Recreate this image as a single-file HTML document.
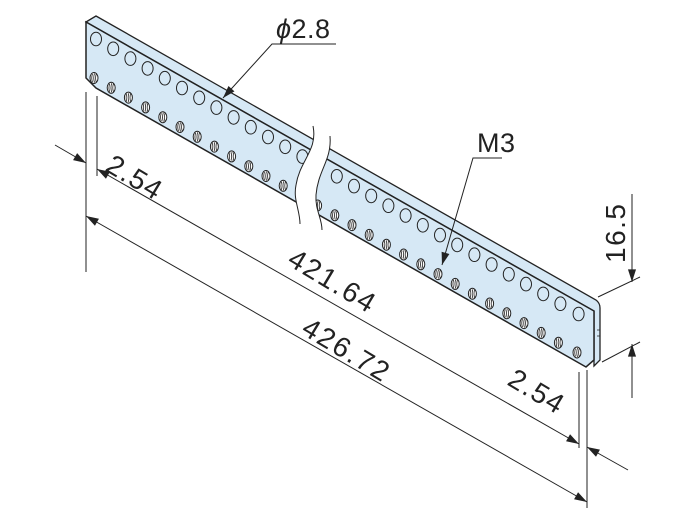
<!DOCTYPE html>
<html><head><meta charset="utf-8"><style>
html,body{margin:0;padding:0;background:#fff;}
svg{display:block;}
text{font-family:"Liberation Sans",Arial,sans-serif;fill:#222;}
</style></head><body>
<svg width="689" height="524" viewBox="0 0 689 524" xmlns="http://www.w3.org/2000/svg">
<defs>
<g id="c"><ellipse cx="0" cy="0" rx="5.5" ry="6.8" fill="none" stroke="#222" stroke-width="1"/></g>
<g id="t"><ellipse cx="0" cy="0" rx="4" ry="5.5" fill="#fff" stroke="#222" stroke-width="1"/><path d="M-1.5,-4 Q-3,0 -1.5,4 M0.5,-4.5 Q-1,0 0.5,4.5 M2.2,-4 Q1,0 2.2,4" fill="none" stroke="#222" stroke-width="0.8"/></g>
<marker id="ah" viewBox="0 0 14 10" refX="14" refY="5" markerWidth="14" markerHeight="9" orient="auto-start-reverse" markerUnits="userSpaceOnUse"><path d="M0,0.5 L14,5 L0,9.5 z" fill="#222"/></marker>
</defs>

<!-- bar -->
<path d="M96,16 L596,300 Q600,303 600,308 L600,360 L594,366 L594,311 L86,22 Z" fill="#d6e8f5" stroke="#222" stroke-width="1.3"/>
<path d="M86,22 L594,311 L594,360 L586,367 L96,88 L86,78 Z" fill="#d6e8f5" stroke="#222" stroke-width="1.5"/>
<path d="M86,22 L96,16" stroke="#222" stroke-width="1.3"/>
<path d="M597,330 L600,330 L600,336 L597,336" fill="none" stroke="#222" stroke-width="0.8"/>

<!-- holes -->
<g>
<use href="#c" x="96" y="39"/><use href="#c" x="113.2" y="48.8"/><use href="#c" x="130.4" y="58.6"/><use href="#c" x="147.6" y="68.4"/><use href="#c" x="164.8" y="78.2"/><use href="#c" x="182" y="88"/><use href="#c" x="199.2" y="97.8"/><use href="#c" x="216.4" y="107.6"/><use href="#c" x="233.6" y="117.4"/><use href="#c" x="250.8" y="127.2"/><use href="#c" x="268" y="137"/><use href="#c" x="285.2" y="146.8"/><use href="#c" x="302.4" y="156.6"/>
<use href="#c" x="336.8" y="176.3"/><use href="#c" x="354" y="186.1"/><use href="#c" x="371.2" y="195.9"/><use href="#c" x="388.4" y="205.7"/><use href="#c" x="405.6" y="215.5"/><use href="#c" x="422.8" y="225.3"/><use href="#c" x="440" y="235.1"/><use href="#c" x="457.2" y="244.9"/><use href="#c" x="474.4" y="254.7"/><use href="#c" x="491.6" y="264.5"/><use href="#c" x="508.8" y="274.3"/><use href="#c" x="526" y="284.1"/><use href="#c" x="543.2" y="293.9"/><use href="#c" x="560.4" y="303.7"/><use href="#c" x="578.6" y="314"/>
<use href="#t" x="94" y="78"/><use href="#t" x="111.2" y="87.8"/><use href="#t" x="128.4" y="97.6"/><use href="#t" x="145.6" y="107.4"/><use href="#t" x="162.8" y="117.2"/><use href="#t" x="180" y="127"/><use href="#t" x="197.2" y="136.8"/><use href="#t" x="214.4" y="146.6"/><use href="#t" x="231.6" y="156.4"/><use href="#t" x="248.8" y="166.2"/><use href="#t" x="266" y="176"/><use href="#t" x="283.2" y="185.8"/>
<use href="#t" x="317.6" y="205.5"/><use href="#t" x="334.8" y="215.3"/><use href="#t" x="352" y="225.1"/><use href="#t" x="369.2" y="234.9"/><use href="#t" x="386.4" y="244.7"/><use href="#t" x="403.6" y="254.5"/><use href="#t" x="420.8" y="264.3"/><use href="#t" x="438" y="274.1"/><use href="#t" x="455.2" y="283.9"/><use href="#t" x="472.4" y="293.7"/><use href="#t" x="489.6" y="303.5"/><use href="#t" x="506.8" y="313.3"/><use href="#t" x="524" y="323.1"/><use href="#t" x="541.2" y="332.9"/><use href="#t" x="558.4" y="342.7"/><use href="#t" x="577" y="352.5"/>
</g>

<!-- break -->
<path d="M313,126 C318,150 300,160 296,185 C293,200 300,210 300,224 L322,230 C322,218 315,210 316,195 C318,170 332,160 330,136 Z" fill="#fff"/>
<path d="M313,126 C318,150 300,160 296,185 C293,200 300,210 300,224" fill="none" stroke="#222" stroke-width="1"/>
<path d="M330,136 C332,160 318,170 316,195 C315,210 322,218 322,230" fill="none" stroke="#222" stroke-width="1"/>

<!-- extension lines -->
<g stroke="#222" stroke-width="1" fill="none">
<line x1="86" y1="92" x2="86" y2="272"/>
<line x1="97" y1="96" x2="97" y2="176"/>
<line x1="579" y1="372" x2="579" y2="448"/>
<line x1="587" y1="370" x2="587" y2="508"/>
<line x1="598" y1="297" x2="640" y2="277"/>
<line x1="602" y1="362" x2="640" y2="342"/>
<line x1="632" y1="194" x2="632" y2="282" marker-end="url(#ah)"/>
<line x1="632" y1="398" x2="632" y2="344" marker-end="url(#ah)"/>
<line x1="55" y1="145" x2="86" y2="163" marker-end="url(#ah)"/>
<line x1="97" y1="169" x2="579" y2="444" marker-start="url(#ah)" marker-end="url(#ah)"/>
<line x1="628" y1="470" x2="587" y2="447" marker-end="url(#ah)"/>
<line x1="86" y1="216" x2="587" y2="502" marker-start="url(#ah)" marker-end="url(#ah)"/>
<polyline points="336,44 272,44 223,98" marker-end="url(#ah)"/>
<polyline points="502,158 473,158 442,265" marker-end="url(#ah)"/>
</g>

<text x="276" y="38" font-size="27" letter-spacing="0.5"><tspan font-style="italic">ϕ</tspan>2.8</text>
<text x="477" y="152" font-size="27" letter-spacing="0.5">M3</text>
<text font-size="28" letter-spacing="1.5" transform="translate(104,170) rotate(31)">2.54</text>
<text font-size="28" letter-spacing="2" transform="translate(286,264) rotate(31)">421.64</text>
<text font-size="28" letter-spacing="2" transform="translate(300,333) rotate(31)">426.72</text>
<text font-size="28" letter-spacing="1.5" transform="translate(506,384) rotate(31)">2.54</text>
<text font-size="28" letter-spacing="1.5" transform="translate(625,263) rotate(-90)">16.5</text>
</svg>
</body></html>
